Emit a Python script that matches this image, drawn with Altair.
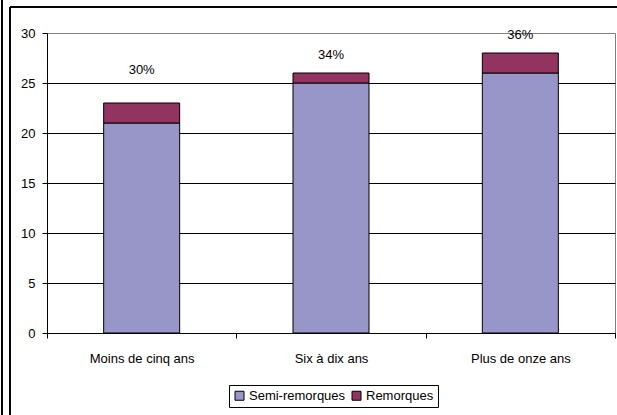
import altair as alt
import pandas as pd

categories = ["Moins de cinq ans", "Six à dix ans", "Plus de onze ans"]
semi = [21, 25, 26]
remorques = [2, 1, 2]
pct_labels = ["30%", "34%", "36%"]
label_heights = [26.3, 27.8, 29.8]
series = ["Semi-remorques", "Remorques"]
colors = ["#9896C9", "#933360"]

rows = []
for c, s, r in zip(categories, semi, remorques):
    rows.append({"cat": c, "serie": series[0], "val": s, "ord": 0})
    rows.append({"cat": c, "serie": series[1], "val": r, "ord": 1})
df = pd.DataFrame(rows)
lab = pd.DataFrame({"cat": categories, "txt": pct_labels, "h": label_heights})

FONT = "Liberation Sans"
FS = 13

xenc = alt.X("cat:N", sort=categories, title=None,
             scale=alt.Scale(paddingInner=0, paddingOuter=0),
             axis=alt.Axis(labelAngle=0, labelFontSize=FS, labelColor="black",
                           labelFont=FONT, labelPadding=14, tickBand="extent",
                           tickSize=5, tickColor="black", domainColor="black",
                           grid=False))

bars = alt.Chart(df).mark_bar(size=76, stroke="black", strokeWidth=1).encode(
    x=xenc,
    y=alt.Y("val:Q", stack="zero", title=None,
            scale=alt.Scale(domain=[0, 30], nice=False),
            axis=alt.Axis(values=[0, 5, 10, 15, 20, 25, 30], labelFontSize=FS,
                          labelColor="black", labelFont=FONT, tickSize=5,
                          tickColor="black", domainColor="black", labelPadding=7,
                          grid=True,
                          gridColor={"condition": {"test": "datum.value === 30", "value": "#808080"},
                                     "value": "black"},
                          gridOpacity=1)),
    color=alt.Color("serie:N", scale=alt.Scale(domain=series, range=colors),
                    legend=alt.Legend(title=None, orient="none", legendX=182, legendY=352,
                                      direction="horizontal", strokeColor="black",
                                      fillColor="white", padding=4,
                                      symbolType="square", symbolSize=81,
                                      symbolStrokeColor="black", symbolStrokeWidth=1,
                                      labelFontSize=FS, labelFont=FONT, labelColor="black",
                                      columnPadding=4, labelOffset=3)),
    order=alt.Order("ord:Q"),
)

texts = alt.Chart(lab).mark_text(fontSize=FS, font=FONT, color="black").encode(
    x=alt.X("cat:N", sort=categories),
    y=alt.Y("h:Q"),
    text="txt:N",
)

frame_top = alt.Chart(lab).mark_rule(color="black", strokeWidth=1.5, clip=False).encode(
    x=alt.value(-37), x2=alt.value(575), y=alt.value(-26))
frame_left = alt.Chart(lab).mark_rule(color="black", strokeWidth=1.5, clip=False).encode(
    x=alt.value(-37), y=alt.value(-26), y2=alt.value(385))
frame_far = alt.Chart(lab).mark_rule(color="black", strokeWidth=1.5, clip=False).encode(
    x=alt.value(-45), y=alt.value(-35), y2=alt.value(385))

chart = alt.layer(bars, texts, frame_top, frame_left, frame_far).properties(
    width=568, height=300,
    autosize=alt.AutoSizeParams(type="none"),
    padding={"left": 47, "top": 33, "right": 2, "bottom": 82},
    background="white",
).configure_view(stroke="#808080", strokeWidth=1)

chart.save("out.html", embed_options={"renderer": "svg", "actions": False})
